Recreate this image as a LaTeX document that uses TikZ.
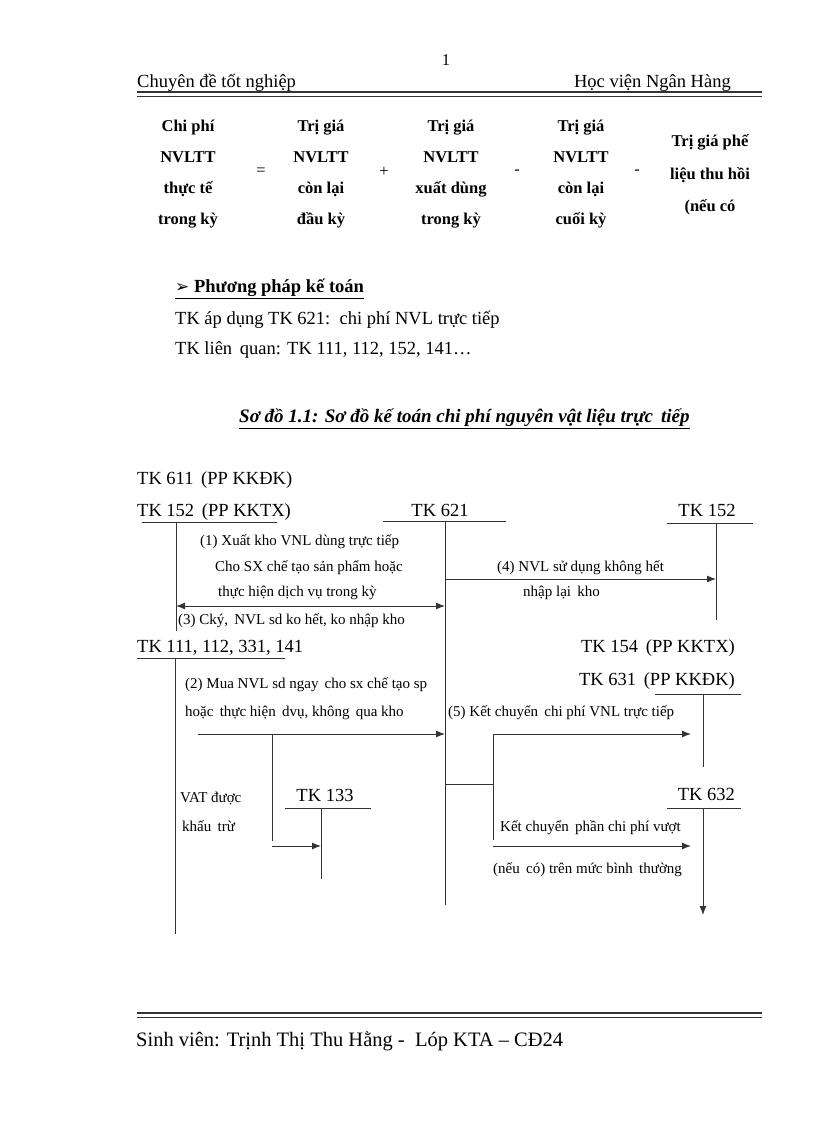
\documentclass[tikz,border=0pt]{standalone}
\usepackage{fontspec}
\setmainfont{Liberation Serif}
\newfontfamily\dejavu{DejaVu Sans}
\usetikzlibrary{arrows.meta}
\begin{document}
\begin{tikzpicture}[x=1pt,y=-1pt,
  body/.style={font=\fontsize{18.5}{22}\selectfont, inner sep=0pt, yshift=-3.5pt},
  small/.style={font=\fontsize{15}{18}\selectfont, inner sep=0pt, yshift=-3pt},
  fcol/.style={font=\bfseries\fontsize{16.5}{31}\selectfont, inner sep=0pt, align=center},
  fop/.style={font=\fontsize{16.5}{20}\selectfont, inner sep=0pt},
  ln/.style={draw=black!80, line width=1pt},
  arr/.style={ln, -{Latex[length=9pt,width=7pt]}},
  darr/.style={ln, {Latex[length=9pt,width=7pt]}-{Latex[length=9pt,width=7pt]}}
]
\useasboundingbox[fill=white] (0,0) rectangle (816,1123);

% header
\node[fop] (pg) at (446,60) {1};
\node[body, anchor=mid west] (hl) at (137,82) {Chuyên đề tốt nghiệp};
\node[body, anchor=mid east] (hr) at (731,82) {Học viện Ngân Hàng};
\draw[line width=1.6pt, black!80] (137,92) -- (762,92);
\draw[line width=0.7pt, black!80] (137,96) -- (762,96);

% formula
\node[fcol] (f1) at (188,174) {Chi phí\\NVLTT\\thực tế\\trong kỳ};
\node[fop] (eq) at (261,172) {=};
\node[fcol] (f2) at (321,174) {Trị giá\\NVLTT\\còn lại\\đầu kỳ};
\node[fop] (pl) at (384,172) {+};
\node[fcol] (f3) at (451,174) {Trị giá\\NVLTT\\xuất dùng\\trong kỳ};
\node[fop] (m1) at (517,172) {-};
\node[fcol] (f4) at (581,174) {Trị giá\\NVLTT\\còn lại\\cuối kỳ};
\node[fop] (m2) at (637,172) {-};
\node[fcol, font=\bfseries\fontsize{16.5}{32.5}\selectfont] (f5) at (710,175) {Trị giá phế\\liệu thu hồi\\(nếu có};

% section text
\node[body, anchor=mid west, font=\bfseries\fontsize{18.5}{22}\selectfont] (sec) at (175,287) {\underline{{\dejavu\fontsize{17}{18}\selectfont ➢} Phương pháp kế toán}};
\node[body, anchor=mid west] (t1) at (175,319) {TK áp dụng TK 621:\, chi phí NVL trực tiếp};
\node[body, anchor=mid west] (t2) at (175,349) {TK liên\, quan: TK 111, 112, 152, 141…};
\node[body, anchor=mid west, font=\bfseries\itshape\fontsize{19}{22}\selectfont] (title) at (239,417) {\underline{Sơ đồ 1.1: Sơ đồ kế toán chi phí nguyên vật liệu trực\, tiếp}};

% account labels
\node[body, anchor=mid west] (tk611) at (137,479) {TK 611\, (PP KKĐK)};
\node[body, anchor=mid west] (tk152) at (137,511) {TK 152\, (PP KKTX)};
\node[body, anchor=mid] (tk621) at (440,511) {TK 621};
\node[body, anchor=mid] (tk152r) at (707,511) {TK 152};
\node[body, anchor=mid west] (tk111) at (137,647) {TK 111, 112, 331, 141};
\node[body, anchor=mid east] (tk154) at (735,647) {TK 154\, (PP KKTX)};
\node[body, anchor=mid east] (tk631) at (735,680) {TK 631\, (PP KKĐK)};
\node[body, anchor=mid] (tk133) at (325,796) {TK 133};
\node[body, anchor=mid east] (tk632) at (735,795) {TK 632};

% coordinates of T-accounts
\coordinate (u152a) at (142,522); \coordinate (u152b) at (277,522);
\coordinate (v152t) at (176,522); \coordinate (v152b) at (176,631);
\coordinate (u621a) at (383,521); \coordinate (u621b) at (506,521);
\coordinate (v621t) at (445,521); \coordinate (v621b) at (445,905);
\coordinate (u152ra) at (667,523); \coordinate (u152rb) at (753,523);
\coordinate (v152rt) at (716,523); \coordinate (v152rb) at (716,620);
\coordinate (u111a) at (137,658); \coordinate (u111b) at (285,658);
\coordinate (v111t) at (175,658); \coordinate (v111b) at (175,934);
\coordinate (u133a) at (285,808); \coordinate (u133b) at (371,808);
\coordinate (v133t) at (321,808); \coordinate (v133b) at (321,879);
\coordinate (u631a) at (655,694); \coordinate (u631b) at (741,694);
\coordinate (v631t) at (703,694); \coordinate (v631b) at (703,767);
\coordinate (u632a) at (667,808); \coordinate (u632b) at (741,808);
\coordinate (v632t) at (703,808); \coordinate (v632b) at (703,915);

\draw[ln] (u152a) -- (u152b);
\draw[ln] (v152t) -- (v152b);
\draw[ln] (u621a) -- (u621b);
\draw[ln] (v621t) -- (v621b);
\draw[ln] (u152ra) -- (u152rb);
\draw[ln] (v152rt) -- (v152rb);
\draw[ln] (u111a) -- (u111b);
\draw[ln] (v111t) -- (v111b);
\draw[ln] (u133a) -- (u133b);
\draw[ln] (v133t) -- (v133b);
\draw[ln] (u631a) -- (u631b);
\draw[ln] (v631t) -- (v631b);
\draw[ln] (u632a) -- (u632b);
\draw[arr] (v632t) -- (v632b);

% flows
\coordinate (p1a) at (176,606); \coordinate (p1b) at (445,606);
\draw[darr] (p1a) -- (p1b);
\node[small, anchor=mid west] (l1a) at (200,540) {(1) Xuất kho VNL dùng trực tiếp};
\node[small, anchor=mid west] (l1b) at (215,566) {Cho SX chế tạo sản phẩm hoặc};
\node[small, anchor=mid west] (l1c) at (218,591) {thực hiện dịch vụ trong kỳ};
\node[small, anchor=mid west] (l3) at (178,619) {(3) Cký,\, NVL sd ko hết, ko nhập kho};

\coordinate (p4a) at (445,579); \coordinate (p4b) at (716,579);
\draw[arr] (p4a) -- (p4b);
\node[small, anchor=mid west] (l4a) at (497,566) {(4) NVL sử dụng không hết};
\node[small, anchor=mid west] (l4b) at (523,591) {nhập lại\, kho};

\coordinate (p2a) at (198,734); \coordinate (p2b) at (445,734);
\draw[arr] (p2a) -- (p2b);
\node[small, anchor=mid west] (l2a) at (185,683) {(2) Mua NVL sd ngay\, cho sx chế tạo sp};
\node[small, anchor=mid west] (l2b) at (185,711) {hoặc\, thực hiện\, dvụ, không\, qua kho};

\coordinate (b1) at (272,734); \coordinate (b2) at (272,841);
\coordinate (b3) at (272,846); \coordinate (b4) at (321,846);
\draw[ln] (b1) -- (b2);
\draw[arr] (b3) -- (b4);
\node[small, anchor=mid west] (vat1) at (180,797) {VAT được};
\node[small, anchor=mid west] (vat2) at (182,826) {khấu\, trừ};

\coordinate (k0) at (445,784); \coordinate (k1) at (493,784);
\coordinate (k2) at (493,734); \coordinate (k3) at (493,840);
\coordinate (k4) at (691,734); \coordinate (k5) at (493,846); \coordinate (k6) at (691,846);
\draw[ln] (k0) -- (k1);
\draw[ln] (k2) -- (k3);
\draw[arr] (k2) -- (k4);
\draw[arr] (k5) -- (k6);
\node[small, anchor=mid west] (l5) at (448,711) {(5) Kết chuyển\, chi phí VNL trực tiếp};
\node[small, anchor=mid west] (l6a) at (500,826) {Kết chuyển\, phần chi phí vượt};
\node[small, anchor=mid west] (l6b) at (493,868) {(nếu\, có) trên mức bình\, thường};

% footer
\draw[line width=1.6pt, black!80] (137,1013) -- (762,1013);
\draw[line width=0.7pt, black!80] (137,1017) -- (762,1017);
\node[body, anchor=mid west, font=\fontsize{20.5}{24}\selectfont] (ft) at (136,1041) {Sinh viên: Trịnh Thị Thu Hằng -\ \ Lóp KTA -- CĐ24};
\end{tikzpicture}
\end{document}
